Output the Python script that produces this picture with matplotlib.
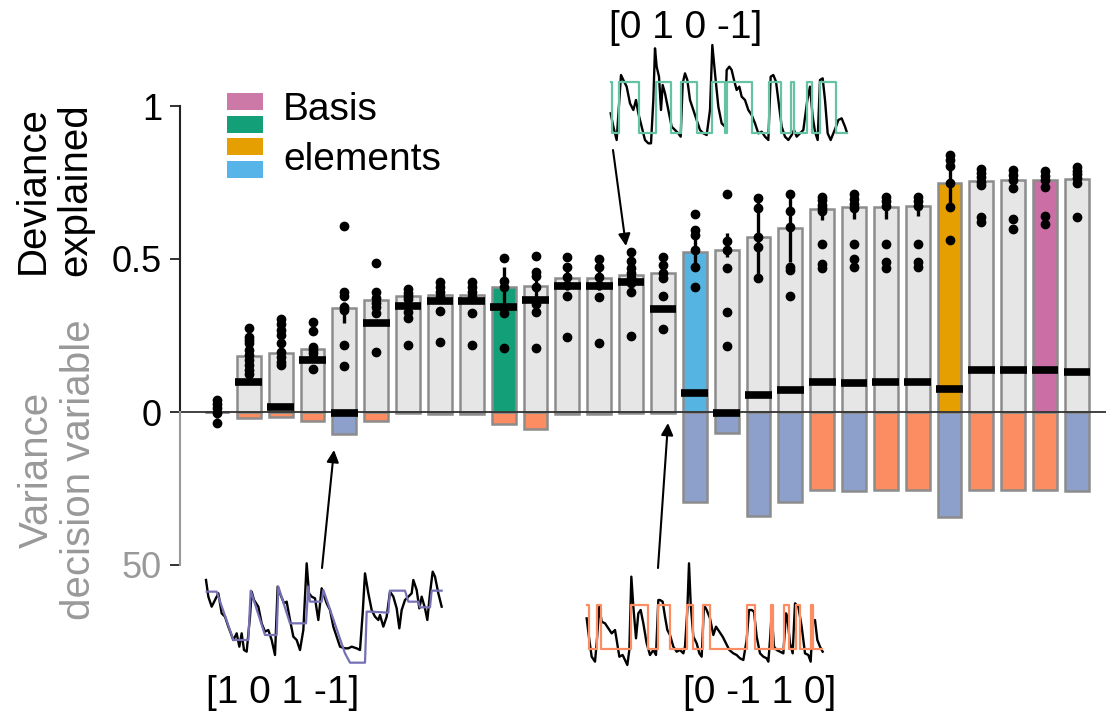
import numpy as np
import matplotlib
matplotlib.use("Agg")
import matplotlib.pyplot as plt
from matplotlib.patches import Rectangle

plt.rcParams['font.family'] = ['Liberation Sans', 'DejaVu Sans']

# ---------------- data ----------------
dev_explained = [0.0, 0.183, 0.194, 0.206, 0.341, 0.366, 0.379, 0.382, 0.382, 0.41,
                 0.412, 0.439, 0.439, 0.448, 0.455, 0.524, 0.529, 0.571, 0.6, 0.664,
                 0.669, 0.669, 0.673, 0.747, 0.756, 0.758, 0.758, 0.761]
medians = [np.nan, 0.097, 0.017, 0.17, -0.002, 0.292, 0.347, 0.364, 0.364, 0.342,
           0.366, 0.413, 0.413, 0.424, 0.337, 0.063, -0.004, 0.056, 0.072, 0.099,
           0.096, 0.099, 0.099, 0.074, 0.137, 0.137, 0.137, 0.13]
err_hi = [0.035, 0.24, 0.227, 0.224, 0.36, 0.39, 0.39, 0.41, 0.41, 0.475, 0.47, 0.46,
          0.46, 0.48, 0.49, 0.595, 0.586, 0.70, 0.711, 0.698, 0.682, 0.69, 0.69, 0.84,
          0.79, 0.79, 0.785, 0.80]
err_lo = [-0.02, 0.15, 0.181, 0.175, 0.29, 0.35, 0.36, 0.37, 0.37, 0.33, 0.322, 0.40,
          0.40, 0.41, 0.44, 0.475, 0.508, 0.437, 0.491, 0.627, 0.63, 0.63, 0.64, 0.671,
          0.73, 0.73, 0.74, 0.735]
session_points = [
    [0.04, 0.026, 0.013, -0.003, -0.036],
    [0.275, 0.246, 0.235, 0.224, 0.203, 0.186, 0.17, 0.154, 0.137, 0.124],
    [0.303, 0.288, 0.268, 0.252, 0.225, 0.197, 0.181, 0.164, 0.154],
    [0.295, 0.265, 0.213, 0.203, 0.192, 0.181, 0.14],
    [0.608, 0.393, 0.38, 0.344, 0.333, 0.219, 0.151],
    [0.486, 0.393, 0.371, 0.357, 0.344, 0.322, 0.195],
    [0.401, 0.39, 0.379, 0.368, 0.328, 0.306, 0.219],
    [0.426, 0.41, 0.393, 0.377, 0.33, 0.23],
    [0.425, 0.41, 0.393, 0.377, 0.322, 0.22],
    [0.503, 0.428, 0.407, 0.322, 0.208],
    [0.511, 0.458, 0.444, 0.409, 0.353, 0.328, 0.21],
    [0.506, 0.475, 0.442, 0.415, 0.38, 0.244],
    [0.5, 0.475, 0.442, 0.415, 0.376, 0.224],
    [0.524, 0.493, 0.469, 0.453, 0.437, 0.42, 0.393, 0.248],
    [0.506, 0.48, 0.455, 0.437, 0.38, 0.27],
    [0.646, 0.595, 0.578, 0.529, 0.475, 0.41],
    [0.711, 0.56, 0.529, 0.469, 0.328, 0.216],
    [0.7, 0.666, 0.573, 0.54, 0.437],
    [0.711, 0.658, 0.604, 0.475, 0.464, 0.38],
    [0.704, 0.693, 0.677, 0.666, 0.657, 0.548, 0.484, 0.47],
    [0.711, 0.695, 0.679, 0.668, 0.548, 0.5, 0.473],
    [0.704, 0.69, 0.673, 0.548, 0.489, 0.47],
    [0.704, 0.69, 0.673, 0.548, 0.489, 0.475],
    [0.84, 0.822, 0.804, 0.747, 0.671, 0.562],
    [0.793, 0.78, 0.767, 0.753, 0.742, 0.638, 0.622],
    [0.791, 0.775, 0.758, 0.733, 0.631, 0.597],
    [0.788, 0.771, 0.758, 0.736, 0.64, 0.616],
    [0.801, 0.789, 0.777, 0.764, 0.75, 0.638],
]
variance_dv = [0.0, 2.0, 1.5, 3.0, 7.3, 3.0, 0.3, 0.5, 0.5, 4.0, 5.4, 0.5, 0.5, 0.3,
               0.3, 29.3, 7.0, 34.0, 29.3, 25.5, 25.7, 25.5, 25.5, 34.4, 25.5, 25.5,
               25.5, 25.7]
variance_type = ['b', 'o', 'o', 'o', 'b', 'o', 't', 't', 't', 'o', 'o', 't', 't', 'o',
                 'o', 'b', 'b', 'b', 'b', 'o', 'b', 'o', 'o', 'b', 'o', 'o', 'o', 'b']
basis_index = {9: '#13a079', 15: '#56b4e2', 23: '#e69f00', 26: '#cc6ea6'}
legend_colors = ['#cc79a7', '#13a079', '#e69f00', '#56b4e9']

# inset traces (arbitrary units; y grows downward)
trace1_x = [78, 85, 95, 105, 115, 125, 135, 145, 160, 170, 178, 185, 192, 200, 210, 215, 222,
            235, 245, 255, 265, 275, 285, 293, 300, 312, 320, 330, 340, 350, 360, 370, 380,
            387, 395, 405, 415, 425, 440, 450, 460, 470, 480, 495, 505, 515, 530, 540, 548,
            555, 565, 575, 585, 595, 600, 610, 620, 630, 640, 650, 658, 665, 675, 685, 695,
            700, 710, 718, 725, 735, 742, 750, 758, 765, 775, 785]
trace1_y = [90, 140, 170, 150, 130, 190, 200, 230, 270, 250, 290, 250, 300, 305, 200, 125, 150,
            170, 220, 245, 240, 270, 315, 110, 130, 160, 155, 210, 260, 270, 300, 240, 40,
            130, 140, 145, 210, 115, 160, 180, 230, 260, 290, 295, 295, 290, 295, 300, 190,
            70, 130, 180, 200, 210, 195, 230, 200, 125, 140, 175, 235, 180, 150, 140, 130,
            90, 120, 175, 140, 175, 210, 130, 65, 80, 130, 170]
model1_x = [80, 110, 160, 205, 212, 255, 290, 295, 330, 378, 385, 390, 425, 430, 495, 510,
            555, 560, 575, 625, 630, 675, 685, 715, 720, 750, 755, 785]
model1_y = [125, 125, 270, 270, 122, 255, 255, 110, 220, 220, 110, 155, 155, 120, 310, 338,
            338, 185, 185, 188, 122, 122, 155, 155, 172, 172, 122, 122]

trace2_x = [50, 58, 65, 75, 80, 88, 95, 105, 115, 125, 135, 140, 148, 158, 165, 172, 178, 184,
            190, 198, 205, 212, 220, 230, 240, 250, 258, 265, 270, 278, 285, 292, 300, 310,
            320, 330, 340, 345, 352, 357, 362, 370, 380, 388, 395, 402, 410, 420, 430, 438,
            448, 458, 468, 478, 490, 500, 510, 520, 530, 537, 545, 552, 560, 570, 580, 590,
            595, 600, 605, 612, 620, 630, 640, 648, 652, 660, 668, 675, 685, 695, 705, 715,
            722, 728, 735, 742, 750, 758]
trace2_y = [235, 300, 350, 365, 310, 200, 245, 250, 265, 280, 270, 300, 350, 345, 360, 375, 330,
            110, 200, 295, 220, 210, 250, 310, 345, 330, 345, 180, 180, 185, 230, 270, 285,
            320, 335, 330, 340, 320, 210, 70, 190, 290, 310, 340, 350, 195, 210, 235, 285,
            260, 275, 290, 310, 330, 340, 345, 355, 360, 300, 210, 210, 215, 290, 340, 350,
            355, 365, 300, 220, 320, 330, 335, 340, 220, 230, 310, 340, 190, 200, 260, 340,
            345, 365, 250, 240, 300, 320, 335]
model2_toggles = [52, 58, 80, 92, 182, 233, 265, 300, 352, 368, 398, 420, 530, 556, 602, 610,
                  642, 657, 678, 690, 722, 730, 755]
model2_levels = (195, 328)

trace3_x = [62, 70, 80, 88, 93, 100, 110, 120, 130, 138, 145, 155, 165, 175, 183, 190, 195,
            200, 207, 213, 218, 225, 235, 245, 255, 265, 272, 278, 285, 292, 300, 310, 320,
            330, 340, 350, 360, 367, 375, 385, 395, 405, 410, 418, 425, 432, 440, 448, 455,
            465, 475, 485, 495, 505, 515, 525, 535, 542, 550, 558, 565, 575, 585, 595, 605,
            612, 620, 630, 640, 652, 660, 668, 675, 683, 690, 698, 705, 713, 722, 730, 738,
            745, 755, 765, 770]
trace3_y = [340, 380, 420, 300, 225, 240, 260, 310, 330, 300, 340, 380, 420, 430, 430, 300, 145,
            200, 230, 330, 255, 280, 330, 380, 390, 400, 410, 250, 220, 240, 300, 330, 360,
            390, 400, 405, 330, 135, 220, 320, 370, 380, 210, 200, 210, 240, 270, 260, 290,
            300, 330, 345, 370, 400, 395, 410, 420, 230, 225, 245, 300, 380, 410, 420, 405,
            390, 410, 400, 390, 300, 260, 350, 395, 420, 240, 235, 300, 400, 420, 400, 380,
            360, 355, 380, 395]
model3_toggles = [62, 66, 88, 148, 197, 243, 272, 322, 367, 405, 412, 487, 538, 572, 602, 612,
                  650, 665, 690, 737, 770]
model3_levels = (245, 398)

inset_labels = ['[1 0 1 -1]', '[0 -1 1 0]', '[0 1 0 -1]']

# ---------------- layout ----------------
W, H = 1106, 717
fig = plt.figure(figsize=(W / 100, H / 100), dpi=100)

def fx(px):
    return px / W

def fy(py):
    return 1 - py / H

X0, DX = 217.0, 31.85      # pixel of first category and spacing
Y0, DY = 412.0, 306.0      # pixel of zero and pixels per unit
AX_LEFT = 180.0
ax = fig.add_axes([fx(AX_LEFT), 0, 1 - fx(AX_LEFT), 1])
ax.set_xlim((AX_LEFT - X0) / DX, (W - X0) / DX)
ax.set_ylim(-(H - Y0) / DY, Y0 / DY)
for s in ax.spines.values():
    s.set_visible(False)

xs = np.arange(len(dev_explained))
bw = 0.75
edge = '#8c8c8c'

var_colors = {'o': '#fc8d62', 'b': '#8da0cb', 't': '#66c2a5'}
vcols = [var_colors[t] for t in variance_type]
ax.bar(xs, -np.array(variance_dv) / 100.0, width=bw, color=vcols, edgecolor=edge,
       linewidth=1.8, zorder=2)

fills = [basis_index.get(i, '#e6e6e6') for i in xs]
ax.bar(xs, dev_explained, width=bw, color=fills, edgecolor=edge, linewidth=1.8, zorder=2)

ax.axhline(0, color='#333333', lw=1.3, zorder=3)

# error bars
ax.vlines(xs, err_lo, err_hi, color='black', lw=2.4, zorder=4)
# points
for i, pts in enumerate(session_points):
    ax.plot([i] * len(pts), pts, 'o', color='black', ms=6.0, zorder=5)
# medians
for i, m in enumerate(medians):
    if not np.isnan(m):
        ax.hlines(m, i - 0.42, i + 0.42, color='black', lw=5.5, zorder=6)

# y axis
ax.set_xticks([])
ax.set_yticks([1, 0.5, 0, -0.5])
ax.set_yticklabels(['1', '0.5', '0', '50'], fontsize=26)
ax.tick_params(axis='y', direction='out', length=7, width=1.3, pad=6, color='#222222')
ticks = ax.yaxis.get_major_ticks()
ticks[-1].tick1line.set_color('#999999')
ax.get_yticklabels()[-1].set_color('#999999')
xl = ax.get_xlim()[0]
ax.plot([xl, xl], [0, 1], color='#222222', lw=1.5, clip_on=False, zorder=7)
ax.plot([xl, xl], [-0.5, 0], color='#999999', lw=1.5, clip_on=False, zorder=7)

# axis titles
fig.text(fx(54), fy(190), 'Deviance\nexplained', rotation=90, ha='center', va='center',
         fontsize=29, linespacing=1.15, color='black')
fig.text(fx(58), fy(470), 'Variance\ndecision variable', rotation=90, ha='center',
         va='center', fontsize=29, linespacing=1.15, color='#999999')

# legend
for k, c in enumerate(legend_colors):
    top = 93 + k * 22.7
    fig.add_artist(Rectangle((fx(227), fy(top + 17)), fx(36), 17 / H,
                             transform=fig.transFigure, color=c, lw=0))
fig.text(fx(283), fy(110), 'Basis', ha='left', va='center', fontsize=28)
fig.text(fx(283), fy(160), 'elements', ha='left', va='center', fontsize=28)

# insets
def add_inset(ox, oy, px0, px1, py0, py1):
    a = fig.add_axes([fx(px0), fy(py1), fx(px1 - px0), (py1 - py0) / H])
    a.set_xlim((px0 - ox) * 3, (px1 - ox) * 3)
    a.set_ylim((py1 - oy) * 3, (py0 - oy) * 3)
    a.axis('off')
    return a

def square(toggles, levels):
    hi, lo = levels
    vx, vy = [], []
    lev = hi
    for j, t in enumerate(toggles):
        if j > 0:
            vx.append(t); vy.append(lev)
            lev = lo if lev == hi else hi
        vx.append(t); vy.append(lev)
    return vx[:-1], vy[:-1]

a1 = add_inset(180, 550, 195, 455, 555, 670)
a1.plot(trace1_x, trace1_y, color='black', lw=1.7)
a1.plot(model1_x, model1_y, color='#7570b3', lw=1.6)

a2 = add_inset(570, 540, 580, 835, 555, 670)
a2.plot(trace2_x, trace2_y, color='black', lw=1.7)
sx, sy = square(model2_toggles, model2_levels)
a2.plot(sx, sy, color='#fc8d62', lw=1.6)

a3 = add_inset(590, 0, 605, 855, 40, 150)
a3.plot(trace3_x, trace3_y, color='black', lw=1.7)
sx, sy = square(model3_toggles, model3_levels)
a3.plot(sx, sy, color='#66c2a5', lw=1.6)

fig.text(fx(283), fy(693), inset_labels[0], ha='center', va='center', fontsize=28)
fig.text(fx(760), fy(693), inset_labels[1], ha='center', va='center', fontsize=28)
fig.text(fx(686), fy(28), inset_labels[2], ha='center', va='center', fontsize=28)

# arrows (figure pixels, origin bottom-left)
for (tx, ty), (hx, hy) in [((322, 568), (334, 450)), ((658, 568), (668, 423)),
                           ((613, 150), (626, 246))]:
    fig.add_artist(matplotlib.patches.FancyArrowPatch(
        (fx(tx), fy(ty)), (fx(hx), fy(hy)), transform=fig.transFigure,
        arrowstyle='-|>', mutation_scale=18, color='black', lw=1.5,
        shrinkA=0, shrinkB=0))

fig.savefig('out.png', dpi=100)
